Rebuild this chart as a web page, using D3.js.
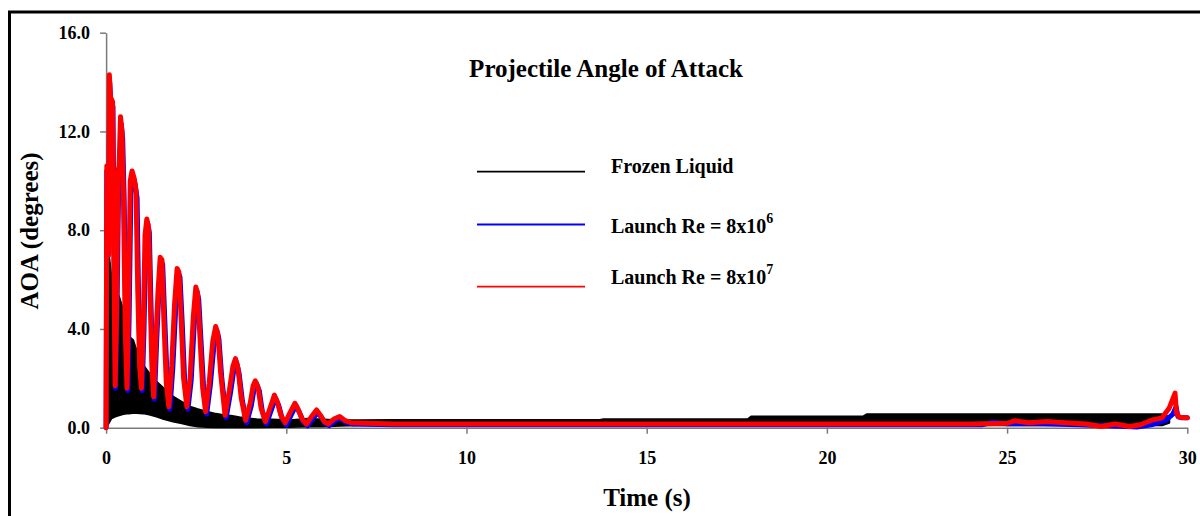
<!DOCTYPE html>
<html>
<head>
<meta charset="utf-8">
<script src="https://cdn.jsdelivr.net/npm/d3@7"></script>
<style>
  body { margin: 0; background: #fff; }
  text { font-family: "Liberation Serif", "Times New Roman", serif; font-weight: bold; fill: #000; }
  .axis path, .axis line { stroke: #7a7a7a; stroke-width: 1.5px; }
  .axis text { font-size: 18px; }
</style>
</head>
<body>
<div class="chart"></div>
<script>
//chart data
var yTicks = [0, 4, 8, 12, 16];
var xTicks = [0, 5, 10, 15, 20, 25, 30];

//frozen liquid: high frequency band, kept as upper / lower envelope
var frozenTime = [0, 0.02, 0.06, 0.15, 0.25, 0.36, 0.48, 0.62, 0.75, 0.85, 1.03, 1.2, 1.4, 1.6, 1.86, 2.1, 2.33, 2.55, 2.79, 3.0, 3.25, 3.5, 3.7, 4.18, 4.6, 5.1, 5.6, 6.0, 6.5, 7.0, 8.0, 13.7, 13.8, 17.8, 17.9, 21.0, 21.1, 29.3, 29.5];
var frozenHigh = [0, 6.9, 7.2, 6.1, 5.6, 5.3, 4.75, 3.7, 3.55, 3.1, 2.54, 2.2, 1.86, 1.6, 1.26, 1.05, 0.85, 0.75, 0.65, 0.58, 0.52, 0.47, 0.42, 0.34, 0.33, 0.3, 0.36, 0.33, 0.3, 0.3, 0.31, 0.31, 0.34, 0.34, 0.45, 0.45, 0.54, 0.54, 0.45];
var frozenLow = [0, 0.05, 0.15, 0.38, 0.45, 0.5, 0.55, 0.58, 0.6, 0.6, 0.58, 0.53, 0.45, 0.35, 0.25, 0.18, 0.1, 0.05, 0.03, 0.02, 0.02, 0.02, 0.02, 0.02, 0.03, 0.03, 0.05, 0.05, 0.08, 0.1, 0.1, 0.1, 0.1, 0.1, 0.1, 0.1, 0.1, 0.1, 0.2];

//launch Re = 8x10^6  [time, aoa]
var blueSeries = [
  [0.00, 0.0], [0.02, 10.4], [0.05, 10.4], [0.07, 7.0], [0.10, 14.0], [0.13, 13.2], [0.19, 13.0],
  [0.22, 7.5], [0.26, 1.6], [0.30, 4.5], [0.35, 10.2], [0.38, 10.5], [0.42, 12.3], [0.46, 11.7],
  [0.50, 9.3], [0.55, 4.0], [0.60, 1.5], [0.64, 4.6], [0.69, 9.8], [0.74, 10.2], [0.80, 9.9],
  [0.86, 9.3], [0.90, 5.3], [0.95, 2.4], [1.00, 1.5], [1.05, 3.9], [1.10, 7.6], [1.15, 8.3],
  [1.20, 7.9], [1.24, 5.3], [1.29, 2.4], [1.34, 1.15], [1.40, 3.4], [1.46, 5.4], [1.52, 6.8],
  [1.57, 6.6], [1.63, 4.3], [1.70, 1.7], [1.77, 0.75], [1.85, 2.4], [1.93, 4.8], [2.00, 6.3],
  [2.05, 6.1], [2.11, 4.3], [2.18, 1.9], [2.27, 0.75], [2.36, 1.9], [2.45, 4.3], [2.52, 5.55],
  [2.57, 5.2], [2.63, 3.6], [2.71, 1.5], [2.79, 0.55], [2.89, 1.7], [2.99, 3.3], [3.07, 3.95],
  [3.13, 3.6], [3.21, 2.0], [3.33, 0.4], [3.45, 1.4], [3.55, 2.4], [3.62, 2.65], [3.69, 2.2],
  [3.78, 1.1], [3.90, 0.2], [4.03, 0.9], [4.11, 1.6], [4.17, 1.8], [4.25, 1.5], [4.33, 0.7],
  [4.45, 0.15], [4.58, 0.7], [4.70, 1.2], [4.79, 0.9], [4.88, 0.4], [5.00, 0.1], [5.13, 0.5],
  [5.27, 0.9], [5.37, 0.6], [5.47, 0.25], [5.59, 0.08], [5.73, 0.35], [5.87, 0.62], [5.98, 0.4],
  [6.08, 0.18], [6.19, 0.08], [6.35, 0.28], [6.51, 0.38], [6.65, 0.22], [6.85, 0.15],
  [8.0, 0.12], [12.0, 0.12], [16.0, 0.12], [20.0, 0.12], [24.3, 0.12], [24.6, 0.22],
  [25.0, 0.16], [26.0, 0.16], [27.0, 0.12], [28.3, 0.05], [28.6, 0.03], [29.0, 0.12],
  [29.4, 0.3], [29.6, 0.55], [29.69, 0.85], [29.74, 0.45], [29.85, 0.4], [30.0, 0.4]
];

//launch Re = 8x10^7  [time, aoa]
var redSeries = [
  [0.00, 0.0], [0.02, 10.6], [0.05, 10.6], [0.07, 7.0], [0.09, 14.3], [0.12, 13.4], [0.18, 13.2],
  [0.21, 7.5], [0.25, 1.7], [0.29, 4.5], [0.33, 10.4], [0.36, 10.6], [0.40, 12.6], [0.44, 12.0],
  [0.48, 9.5], [0.53, 4.0], [0.58, 1.6], [0.62, 4.8], [0.67, 10.0], [0.72, 10.4], [0.78, 10.1],
  [0.83, 9.6], [0.88, 5.5], [0.93, 2.5], [0.98, 1.6], [1.03, 4.0], [1.08, 7.8], [1.13, 8.45],
  [1.18, 8.1], [1.22, 5.5], [1.27, 2.5], [1.32, 1.25], [1.38, 3.5], [1.44, 5.5], [1.50, 6.9],
  [1.55, 6.8], [1.60, 4.5], [1.67, 1.8], [1.74, 0.85], [1.82, 2.5], [1.90, 5.0], [1.97, 6.45],
  [2.02, 6.3], [2.08, 4.5], [2.15, 2.0], [2.24, 0.85], [2.33, 2.0], [2.42, 4.5], [2.49, 5.7],
  [2.54, 5.4], [2.60, 3.8], [2.68, 1.6], [2.76, 0.65], [2.86, 1.8], [2.96, 3.5], [3.04, 4.1],
  [3.10, 3.8], [3.18, 2.2], [3.30, 0.5], [3.42, 1.5], [3.52, 2.5], [3.59, 2.8], [3.66, 2.4],
  [3.75, 1.2], [3.87, 0.3], [4.00, 1.0], [4.08, 1.7], [4.14, 1.9], [4.22, 1.6], [4.30, 0.8],
  [4.42, 0.25], [4.55, 0.8], [4.67, 1.32], [4.76, 1.0], [4.85, 0.5], [4.97, 0.2], [5.10, 0.6],
  [5.24, 0.99], [5.34, 0.7], [5.44, 0.35], [5.56, 0.15], [5.70, 0.45], [5.84, 0.72], [5.95, 0.5],
  [6.05, 0.25], [6.16, 0.15], [6.32, 0.35], [6.48, 0.45], [6.62, 0.3], [6.80, 0.2],
  [8.0, 0.15], [12.0, 0.15], [16.0, 0.15], [20.0, 0.15], [24.0, 0.15], [25.0, 0.18],
  [25.2, 0.28], [25.6, 0.2], [26.1, 0.25], [26.6, 0.2], [27.2, 0.15], [27.6, 0.05],
  [28.0, 0.15], [28.4, 0.05], [28.7, 0.12], [29.0, 0.3], [29.3, 0.4], [29.5, 0.8],
  [29.62, 1.25], [29.66, 1.4], [29.70, 0.6], [29.78, 0.42], [30.0, 0.4]
];

var legendNames = ["Frozen Liquid", "Launch Re = 8x10", "Launch Re = 8x10"];
var legendSup = ["", "6", "7"];
var legendColors = ["#000000", "#0000ff", "#ff0000"];

//svg size and margins
var svgWidth = 1200;
var svgHeight = 516;
var margin = { top: 32.7, right: 12.7, bottom: 88.3, left: 106.1 };
var chartWidth = svgWidth - margin.left - margin.right;
var chartHeight = svgHeight - margin.top - margin.bottom;

var svg = d3.select(".chart")
  .append("svg")
  .attr("width", svgWidth)
  .attr("height", svgHeight);

//outer frame, runs off the bottom / right of the picture
svg.append("rect")
  .attr("x", 9.5)
  .attr("y", 12)
  .attr("width", 1300)
  .attr("height", 600)
  .attr("fill", "none")
  .attr("stroke", "#000")
  .attr("stroke-width", 3);

var chartGroup = svg.append("g")
  .attr("transform", `translate(${margin.left}, ${margin.top})`);

var xScale = d3.scaleLinear().domain([0, 30]).range([0, chartWidth]);
var yScale = d3.scaleLinear().domain([0, 16]).range([chartHeight, 0]);

/********************************************/
//axes
chartGroup.append("g")
  .attr("class", "axis y-axis")
  .call(d3.axisLeft(yScale).tickValues(yTicks).tickFormat(d3.format(".1f")).tickSize(6).tickPadding(10).tickSizeOuter(0));

chartGroup.append("g")
  .attr("class", "axis x-axis")
  .attr("transform", `translate(0, ${chartHeight})`)
  .call(d3.axisBottom(xScale).tickValues(xTicks).tickFormat(d3.format("d")).tickSize(6).tickPadding(18).tickSizeOuter(0));

/********************************************/
//series
var frozenData = frozenTime.map(function (t, i) {
  return { t: t, hi: frozenHigh[i], lo: frozenLow[i] };
});

chartGroup.append("path")
  .datum(frozenData)
  .attr("fill", "#000")
  .attr("stroke", "#000")
  .attr("stroke-width", 2)
  .attr("stroke-linejoin", "round")
  .attr("d", d3.area()
    .x(d => xScale(d.t))
    .y0(d => yScale(d.lo))
    .y1(d => yScale(d.hi)));

var line = d3.line()
  .x(d => xScale(d[0]))
  .y(d => yScale(d[1]));

chartGroup.append("path")
  .datum(blueSeries)
  .attr("fill", "none")
  .attr("stroke", "#0000ff")
  .attr("stroke-width", 5)
  .attr("stroke-linejoin", "round")
  .attr("stroke-linecap", "round")
  .attr("d", line);

chartGroup.append("path")
  .datum(redSeries)
  .attr("fill", "none")
  .attr("stroke", "#ff0000")
  .attr("stroke-width", 5)
  .attr("stroke-linejoin", "round")
  .attr("stroke-linecap", "round")
  .attr("d", line);

/********************************************/
//title, labels, legend
svg.append("text")
  .attr("x", 606)
  .attr("y", 77)
  .attr("text-anchor", "middle")
  .style("font-size", "25px")
  .text("Projectile Angle of Attack");

svg.append("text")
  .attr("x", 647)
  .attr("y", 506)
  .attr("text-anchor", "middle")
  .style("font-size", "25px")
  .text("Time (s)");

svg.append("text")
  .attr("transform", "translate(38, 231) rotate(-90)")
  .attr("text-anchor", "middle")
  .style("font-size", "25px")
  .text("AOA (degrees)");

var legendLineY = [171.7, 224.5, 286.7];
var legendTextY = [173.3, 232.7, 284];

var legend = svg.append("g").attr("class", "legend");

legendNames.forEach(function (name, i) {
  legend.append("line")
    .attr("x1", 477)
    .attr("x2", 585)
    .attr("y1", legendLineY[i])
    .attr("y2", legendLineY[i])
    .attr("stroke", legendColors[i])
    .attr("stroke-width", 1.8);

  var label = legend.append("text")
    .attr("x", 611)
    .attr("y", legendTextY[i])
    .style("font-size", "20px")
    .text(name);

  if (legendSup[i]) {
    label.append("tspan")
      .attr("dy", -10)
      .style("font-size", "14px")
      .text(legendSup[i]);
  }
});
</script>
</body>
</html>
